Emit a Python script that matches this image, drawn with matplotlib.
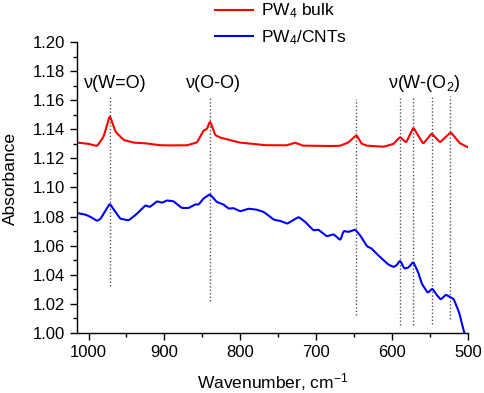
import numpy as np
import matplotlib
matplotlib.use("Agg")
import matplotlib.pyplot as plt
from matplotlib.ticker import MultipleLocator, FormatStrFormatter

plt.rcParams["font.family"] = ["Liberation Sans", "DejaVu Sans"]
plt.rcParams["mathtext.fontset"] = "custom"
plt.rcParams["mathtext.rm"] = "Liberation Sans"
plt.rcParams["mathtext.it"] = "Liberation Sans:italic"

# PW4 bulk spectrum
bulk_wn = [1014, 1000, 988.6, 980, 972, 964.5, 953.5, 940, 923, 905, 888, 870, 857,
           848, 844, 840, 833, 826, 813, 800, 765, 738.6, 727.6, 717, 677, 668, 657.5,
           647, 640, 633, 611, 598, 589.5, 581.6, 572, 559, 547.8, 537, 522.8, 510.5, 500]
bulk_abs = [1.1308, 1.1300, 1.1285, 1.1350, 1.1495, 1.1384, 1.1326, 1.1308, 1.1303, 1.1290,
            1.1289, 1.1290, 1.1310, 1.1395, 1.1400, 1.1458, 1.1360, 1.1342, 1.1325, 1.1308,
            1.1290, 1.1290, 1.1308, 1.1287, 1.1285, 1.1287, 1.1310, 1.1360, 1.1300, 1.1287,
            1.1280, 1.1300, 1.1348, 1.1308, 1.1412, 1.1300, 1.1372, 1.1310, 1.1380, 1.1303,
            1.1276]

# PW4/CNTs spectrum
cnt_wn = [1014.5, 1004, 997, 988.6, 984, 972, 964.5, 958, 947, 936, 925, 919, 909.6, 903,
          896.5, 888, 877, 868, 859, 855, 848, 840, 831, 822, 815, 809, 800, 789, 778, 769,
          763, 756, 747, 738, 731, 723, 714.5, 703.5, 697, 686, 677, 668, 664, 657.5, 648.7,
          642, 633, 627, 616, 605, 598, 594, 589.5, 584, 578.5, 572, 565, 561, 553, 547,
          541, 536, 529, 524, 519, 511.5, 505, 500]
cnt_abs = [1.0824, 1.0813, 1.0797, 1.0770, 1.0785, 1.0889, 1.0831, 1.0785, 1.0774, 1.0820,
           1.0877, 1.0866, 1.0905, 1.0895, 1.0911, 1.0905, 1.0859, 1.0859, 1.0884, 1.0882,
           1.0927, 1.0953, 1.0900, 1.0882, 1.0854, 1.0858, 1.0836, 1.0854, 1.0847, 1.0831,
           1.0808, 1.0779, 1.0769, 1.0751, 1.0774, 1.0797, 1.0763, 1.0705, 1.0710, 1.0664,
           1.0678, 1.0637, 1.0701, 1.0694, 1.0710, 1.0670, 1.0595, 1.0580, 1.0522, 1.0470,
           1.0453, 1.0465, 1.0499, 1.0442, 1.0449, 1.0488, 1.0408, 1.0339, 1.0275, 1.0305,
           1.0259, 1.0229, 1.0263, 1.0247, 1.0234, 1.0137, 1.0000, 0.9940]

# band markers (dotted lines)
band_wn = [972, 840, 647, 589.5, 572, 547.5, 523.5]
band_top = [1.162, 1.162, 1.161, 1.163, 1.163, 1.163, 1.163]
band_bottom = [1.032, 1.022, 1.0124, 1.0055, 1.0055, 1.0062, 1.0096]

band_labels = ["\u03bd(W=O)", "\u03bd(O-O)", "\u03bd(W-(O$_2$)"]
label_wn = [964.5, 835.5, 557]
label_y = [1.1715, 1.1715, 1.1715]


def smooth_curve(wn, vals, n=600):
    # resample the read points on a fine grid and smooth lightly
    x = np.array(wn[::-1], dtype=float)
    y = np.array(vals[::-1], dtype=float)
    xs = np.linspace(x[0], x[-1], n)
    ys = np.interp(xs, x, y)
    k = 3
    ker = np.ones(k) / k
    ys_s = np.convolve(np.pad(ys, k // 2, mode="edge"), ker, mode="valid")
    return xs, ys_s


fig = plt.figure(figsize=(4.85, 3.93), dpi=100)
ax = fig.add_axes([0.159, 0.153, 0.806, 0.740])

ax.vlines(band_wn, band_bottom, band_top, colors="#555555", linestyles=(0, (1, 1.5)), lw=1.0)

xs, ys = smooth_curve(bulk_wn, bulk_abs)
ax.plot(xs, ys, color="#ff0000", lw=1.5, label="PW$_4$ bulk")
xs, ys = smooth_curve(cnt_wn, cnt_abs)
ax.plot(xs, ys, color="#0000ff", lw=1.5, label="PW$_4$/CNTs")

for txt, xw, yv in zip(band_labels, label_wn, label_y):
    ax.text(xw, yv, txt, ha="center", va="center", fontsize=13)

ax.set_xlim(1015, 500)
ax.set_ylim(1.00, 1.20)
ax.xaxis.set_major_locator(MultipleLocator(100))
ax.xaxis.set_minor_locator(MultipleLocator(50))
ax.yaxis.set_major_locator(MultipleLocator(0.02))
ax.yaxis.set_minor_locator(MultipleLocator(0.01))
ax.yaxis.set_major_formatter(FormatStrFormatter("%.2f"))
ax.tick_params(which="major", direction="out", length=5, width=1, labelsize=12)
ax.tick_params(which="minor", direction="out", length=3, width=1)
for s in ["top", "right"]:
    ax.spines[s].set_visible(False)
for s in ["left", "bottom"]:
    ax.spines[s].set_linewidth(1.0)

ax.set_xlabel("Wavenumber, cm$^{-1}$", fontsize=12.5, labelpad=8)
ax.set_ylabel("Absorbance", fontsize=12.5)
ax.yaxis.set_label_coords(-0.152, 0.53)

fig.legend(loc="center left", bbox_to_anchor=(0.443, 0.938), frameon=False,
           fontsize=12.5, handlelength=2.2, handletextpad=0.45, labelspacing=0.45,
           borderpad=0, borderaxespad=0)

fig.savefig("out.png", dpi=100)
